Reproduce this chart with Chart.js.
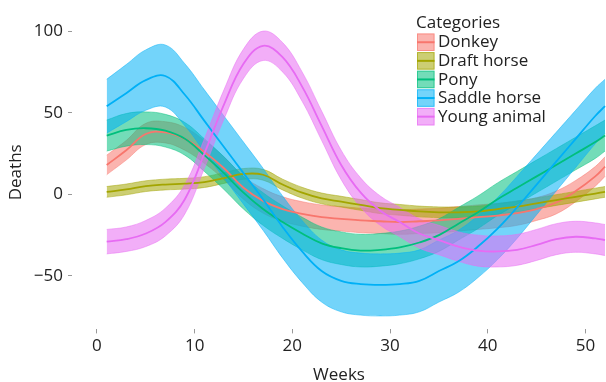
<!DOCTYPE html>
<html>
<head>
<meta charset="utf-8">
<script src="https://cdn.jsdelivr.net/npm/chart.js@4.4.1/dist/chart.umd.min.js"></script>
<style>
  html, body { margin: 0; padding: 0; background: #fff; }
  #wrap { width: 606px; height: 382px; }
</style>
</head>
<body>
<div id="wrap"><canvas id="deathsChart" width="606" height="382"></canvas></div>
<script>
const weeks = [1, 3, 5, 7, 9, 11, 13, 15, 17, 19, 21, 23, 25, 27, 29, 31, 33, 35, 37, 39, 41, 43, 45, 47, 49, 51, 52];
const categories = ["Donkey", "Draft horse", "Pony", "Saddle horse", "Young animal"];
const xTicks = [0, 10, 20, 30, 40, 50];
const yTicks = [-50, 0, 50, 100];

// fitted mean + lower/upper band for each category
const donkeyMean = [18, 27, 37, 38, 34, 26, 16, 4, -4, -9, -12, -14, -15, -16, -16.5, -17, -16.5, -16, -15, -14, -13, -11.5, -9, -5, 2, 11, 17];
const donkeyLow  = [12, 21, 30.5, 31.5, 27, 19, 9, -3, -11.5, -16.5, -19.5, -21.5, -22.5, -23.5, -24, -24.5, -24, -23.5, -22.5, -21.5, -20.5, -19, -16, -12, -4.5, 5, 11];
const donkeyHigh = [24, 33, 43.5, 44.5, 41, 33, 23, 11, 3.5, -1.5, -4.5, -6.5, -7.5, -8.5, -9, -9.5, -9, -8.5, -7.5, -6.5, -5.5, -4, -2, 2, 8.5, 17, 23];

const draftMean = [1.5, 3, 5, 6, 6.5, 7.5, 10, 12.5, 12, 6, 1, -2.5, -4.5, -6.5, -8.5, -9.5, -10.5, -11, -11, -10.5, -9, -7.5, -5.5, -3.5, -1.5, 0.5, 1.5];
const draftLow  = [-1.8, -0.3, 1.7, 2.7, 3.2, 4.2, 6.7, 9.2, 8.7, 2.7, -2.3, -5.8, -7.8, -9.8, -11.8, -12.8, -13.8, -14.3, -14.3, -13.8, -12.3, -10.8, -8.8, -6.8, -4.8, -2.8, -1.8];
const draftHigh = [4.8, 6.3, 8.3, 9.3, 9.8, 10.8, 13.3, 15.8, 15.3, 9.3, 4.3, 0.8, -1.2, -3.2, -5.2, -6.2, -7.2, -7.7, -7.7, -7.2, -5.7, -4.2, -2.2, -0.2, 1.8, 3.8, 4.8];

const ponyMean = [36, 39.5, 40.5, 39, 34, 24, 13, 1, -9, -17, -24, -30, -33, -34.5, -34, -32.5, -29.5, -25, -18, -11, -3, 4, 11, 18, 25, 32, 36];
const ponyLow  = [26.5, 29.5, 30.5, 29, 24, 14, 3, -9, -19, -27, -34, -40, -43, -44.5, -44, -42.5, -39.5, -35, -28, -21, -13, -6, 1, 8, 15, 22, 26.5];
const ponyHigh = [45.5, 49.5, 50.5, 49, 44, 34, 23, 11, 1, -7, -14, -20, -23, -24.5, -24, -22.5, -19.5, -15, -8, -1, 7, 14, 21, 28, 35, 42, 45.5];

const saddleMean = [54, 62, 70, 72.5, 61, 45, 29, 13, -3, -20, -35, -47, -53, -55, -55.5, -55, -53, -47, -41, -32, -21, -8, 6, 20, 34, 48, 54];
const saddleLow  = [37.5, 44.5, 51.5, 53.5, 42, 26, 10, -6, -22, -39, -54, -66, -72, -74, -74.5, -74, -72, -66, -60, -51, -40, -27, -12.5, 2, 16.5, 31, 37.5];
const saddleHigh = [70.5, 79.5, 88.5, 91.5, 80, 64, 48, 32, 16, -1, -16, -28, -34, -36, -36.5, -36, -34, -28, -22, -13, -2, 11, 24.5, 38, 51.5, 65, 70.5];

const youngMean = [-29, -27.5, -24, -17, -3, 25, 55, 80, 91, 84, 66, 42, 18, 1, -10, -17, -24, -28, -32, -34.5, -35, -34, -31, -27.5, -26, -27, -28];
const youngLow  = [-36.5, -35, -32, -25.5, -12, 16, 46, 71, 82, 75, 57, 33, 9, -8, -19, -26, -33, -37, -41, -44, -44.5, -43.5, -40.5, -37, -35.5, -36.5, -37.5];
const youngHigh = [-21.5, -20, -16, -8.5, 6, 34, 64, 89, 100, 93, 75, 51, 27, 10, -1, -8, -15, -19, -23, -25, -25.5, -24.5, -21.5, -18, -16.5, -17.5, -18.5];

const colors = ["#F8766D", "#A3A500", "#00BF7D", "#00B0F6", "#E76BF3"];
const series = [
  [donkeyLow, donkeyMean, donkeyHigh],
  [draftLow, draftMean, draftHigh],
  [ponyLow, ponyMean, ponyHigh],
  [saddleLow, saddleMean, saddleHigh],
  [youngLow, youngMean, youngHigh],
];

function alpha(hex, a) {
  const n = parseInt(hex.slice(1), 16);
  return `rgba(${(n >> 16) & 255}, ${(n >> 8) & 255}, ${n & 255}, ${a})`;
}
function points(values) {
  return weeks.map((w, i) => ({ x: w, y: values[i] }));
}

// build datasets: lower edge, upper edge (filled to lower), mean line
const datasets = [];
series.forEach(([low, mean, high], i) => {
  const col = colors[i];
  datasets.push({
    label: categories[i] + " low",
    data: points(low),
    borderColor: alpha(col, 0.6),
    borderWidth: 0.8,
    pointRadius: 0,
    fill: false,
    tension: 0.4,
    order: 20 - i,
  });
  datasets.push({
    label: categories[i] + " high",
    data: points(high),
    borderColor: alpha(col, 0.6),
    borderWidth: 0.8,
    backgroundColor: alpha(col, 0.55),
    pointRadius: 0,
    fill: "-1",
    tension: 0.4,
    order: 20 - i,
  });
  datasets.push({
    label: categories[i],
    data: points(mean),
    borderColor: col,
    borderWidth: 1.8,
    pointRadius: 0,
    fill: false,
    tension: 0.4,
    order: 10 - i,
  });
});

const FONT = '"Open Sans", "DejaVu Sans", sans-serif';
const TEXT = "#222";

// legend inside the panel, top right
const categoryLegend = {
  id: "categoryLegend",
  afterDraw(chart) {
    const ctx = chart.ctx;
    ctx.save();
    ctx.font = `17px ${FONT}`;
    ctx.textBaseline = "middle";
    ctx.fillStyle = TEXT;
    ctx.fillText("Categories", 416, 23);
    categories.forEach((name, i) => {
      const y = 33.5 + i * 18.6;
      ctx.fillStyle = alpha(colors[i], 0.55);
      ctx.fillRect(417, y, 17.5, 17.5);
      ctx.strokeStyle = alpha(colors[i], 0.6);
      ctx.lineWidth = 1;
      ctx.strokeRect(417.5, y + 0.5, 16.5, 16.5);
      ctx.strokeStyle = colors[i];
      ctx.lineWidth = 2;
      ctx.beginPath();
      ctx.moveTo(417, y + 8.75);
      ctx.lineTo(434.5, y + 8.75);
      ctx.stroke();
      ctx.fillStyle = TEXT;
      ctx.fillText(name, 438, y + 9);
    });
    ctx.restore();
  },
};

const ctx = document.getElementById("deathsChart").getContext("2d");
const deathsChart = new Chart(ctx, {
  type: "line",
  data: { datasets: datasets },
  plugins: [categoryLegend],
  options: {
    responsive: false,
    animation: false,
    layout: { padding: { top: 5.6, right: 0, left: 0, bottom: 0 } },
    plugins: {
      legend: { display: false },
      tooltip: { enabled: false },
    },
    scales: {
      x: {
        type: "linear",
        min: -2.55,
        max: 52.1,
        afterFit: (scale) => { scale.height = 52.6; },
        afterBuildTicks: (scale) => { scale.ticks = xTicks.map((v) => ({ value: v })); },
        border: { display: false },
        grid: { drawOnChartArea: false, drawTicks: true, tickLength: 4, color: "#999" },
        ticks: { color: TEXT, font: { family: FONT, size: 17 }, padding: 3, maxRotation: 0 },
        title: {
          display: true,
          text: "Weeks",
          color: TEXT,
          font: { family: FONT, size: 17, lineHeight: 1 },
          padding: { top: 0, bottom: -2 },
        },
      },
      y: {
        min: -82.75,
        max: 109.75,
        afterFit: (scale) => { scale.width = 72; },
        afterBuildTicks: (scale) => { scale.ticks = yTicks.map((v) => ({ value: v })); },
        border: { display: false },
        grid: { drawOnChartArea: false, drawTicks: true, tickLength: 4, color: "#999" },
        ticks: {
          color: TEXT,
          font: { family: FONT, size: 17 },
          padding: 5,
          callback: (v) => String(v).replace("-", "\u2212"),
        },
        title: {
          display: true,
          text: "Deaths",
          color: TEXT,
          font: { family: FONT, size: 17, lineHeight: 1 },
          padding: { top: 7.5, bottom: 0 },
        },
      },
    },
  },
});
</script>
</body>
</html>
